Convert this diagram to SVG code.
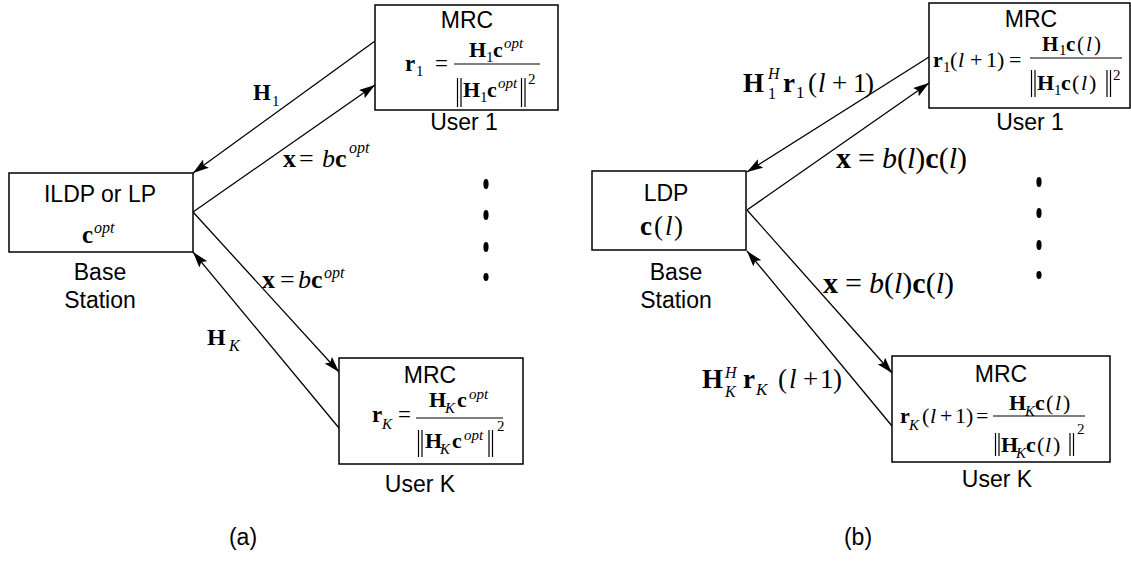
<svg xmlns="http://www.w3.org/2000/svg" width="1131" height="561" viewBox="0 0 1131 561">
<style>
.t{font-family:"Liberation Sans",Arial,sans-serif;font-size:23px;fill:#000}
.m{font-family:"Liberation Serif","Times New Roman",serif;fill:#000}
.b{font-weight:bold}
.i{font-style:italic}
.box{fill:#fff;stroke:#000;stroke-width:1.5}
.ln{stroke:#000;stroke-width:1.2;fill:none}
.c{stroke:#000;stroke-width:1.3;fill:none;marker-end:url(#ah)}
.dot{fill:#000}
</style>
<defs>
<marker id="ah" viewBox="0 0 16 10" refX="16" refY="5" markerWidth="16" markerHeight="10" orient="auto" markerUnits="userSpaceOnUse">
<path d="M0,0 L16,5 L0,10 L3,5 z" fill="#000"/>
</marker>
</defs>

<g id="connectors">
<line class="c" x1="375" y1="41" x2="193" y2="173"/>
<line class="c" x1="193" y1="212" x2="375" y2="85"/>
<line class="c" x1="193" y1="212" x2="339" y2="372"/>
<line class="c" x1="339" y1="428" x2="193" y2="252"/>
<line class="c" x1="929" y1="57" x2="747" y2="172"/>
<line class="c" x1="747" y1="210" x2="929" y2="83"/>
<line class="c" x1="747" y1="210" x2="892" y2="373"/>
<line class="c" x1="892" y1="426" x2="747" y2="251"/>
</g>

<g id="connector-labels">
<text class="m" font-size="23"><tspan class="b" x="253" y="100">H</tspan><tspan x="272" y="106" font-size="15">1</tspan></text>
<text class="m" font-size="26"><tspan class="b" x="283" y="167">x</tspan><tspan x="299" y="167">=</tspan><tspan class="i" x="322" y="167">b</tspan><tspan class="b">c</tspan><tspan class="i" x="349" y="153" font-size="16">opt</tspan></text>
<text class="m" font-size="26"><tspan class="b" x="262" y="288">x</tspan><tspan x="280" y="288">=</tspan><tspan class="i" x="298" y="288">b</tspan><tspan class="b">c</tspan><tspan class="i" x="324" y="278" font-size="16">opt</tspan></text>
<text class="m" font-size="24"><tspan class="b" x="207" y="345">H</tspan><tspan class="i" x="229" y="351" font-size="16">K</tspan></text>

<text class="m" font-size="27"><tspan class="b" x="743" y="92">H</tspan><tspan class="i" x="768" y="79" font-size="16">H</tspan><tspan x="768" y="99" font-size="16">1</tspan><tspan class="b" x="783" y="92">r</tspan><tspan x="796" y="98" font-size="17">1</tspan><tspan x="808" y="92">(</tspan><tspan class="i" x="818" y="92">l</tspan><tspan x="832" y="92">+</tspan><tspan x="853" y="92">1</tspan><tspan x="865" y="92">)</tspan></text>
<text class="m" font-size="30"><tspan class="b" x="836" y="168">x</tspan><tspan x="858" y="168">=</tspan><tspan class="i" x="882" y="168">b</tspan><tspan>(</tspan><tspan class="i">l</tspan><tspan>)</tspan><tspan class="b">c</tspan><tspan>(</tspan><tspan class="i">l</tspan><tspan>)</tspan></text>
<text class="m" font-size="30"><tspan class="b" x="823" y="293">x</tspan><tspan x="845" y="293">=</tspan><tspan class="i" x="869" y="293">b</tspan><tspan>(</tspan><tspan class="i">l</tspan><tspan>)</tspan><tspan class="b">c</tspan><tspan>(</tspan><tspan class="i">l</tspan><tspan>)</tspan></text>
<text class="m" font-size="27"><tspan class="b" x="702" y="388">H</tspan><tspan class="i" x="725" y="378" font-size="16">H</tspan><tspan class="i" x="725" y="397" font-size="16">K</tspan><tspan class="b" x="743" y="388">r</tspan><tspan class="i" x="756" y="395" font-size="17">K</tspan><tspan x="778" y="388">(</tspan><tspan class="i" x="789" y="388">l</tspan><tspan x="803" y="388">+</tspan><tspan x="820" y="388">1</tspan><tspan x="833" y="388">)</tspan></text>
</g>

<g id="a-base-station">
<rect class="box" x="9" y="173" width="184" height="79"/>
<text class="t" x="100" y="202" text-anchor="middle">ILDP or LP</text>
<text class="m"><tspan class="b" x="82" y="243" font-size="25">c</tspan><tspan class="i" x="94" y="233" font-size="16">opt</tspan></text>
<text class="t" x="100" y="280" text-anchor="middle">Base</text>
<text class="t" x="100" y="308" text-anchor="middle">Station</text>
</g>

<g id="a-user1">
<rect class="box" x="375" y="5" width="183" height="105"/>
<text class="t" x="467" y="28" text-anchor="middle">MRC</text>
<text class="m" font-size="23"><tspan class="b" x="405" y="71">r</tspan><tspan x="416" y="76" font-size="15">1</tspan><tspan x="435" y="71">=</tspan></text>
<line class="ln" x1="454" y1="64" x2="540" y2="64"/>
<text class="m" font-size="22"><tspan class="b" x="469" y="57">H</tspan><tspan x="486" y="62" font-size="15">1</tspan><tspan class="b" x="493" y="57">c</tspan><tspan class="i" x="504" y="48" font-size="15">opt</tspan></text>
<line class="ln" x1="457.5" y1="78" x2="457.5" y2="107"/><line class="ln" x1="461" y1="78" x2="461" y2="107"/>
<text class="m" font-size="22"><tspan class="b" x="463" y="97">H</tspan><tspan x="480" y="102" font-size="15">1</tspan><tspan class="b" x="487" y="97">c</tspan><tspan class="i" x="498" y="88" font-size="15">opt</tspan><tspan x="528" y="84" font-size="15">2</tspan></text>
<line class="ln" x1="521.5" y1="78" x2="521.5" y2="107"/><line class="ln" x1="525" y1="78" x2="525" y2="107"/>
<text class="t" x="464" y="130" text-anchor="middle">User 1</text>
</g>

<g id="a-userK">
<rect class="box" x="339" y="358" width="184" height="106"/>
<text class="t" x="430" y="383" text-anchor="middle">MRC</text>
<text class="m" font-size="23"><tspan class="b" x="372" y="422">r</tspan><tspan class="i" x="382" y="429" font-size="15">K</tspan><tspan x="398" y="422">=</tspan></text>
<line class="ln" x1="416" y1="418" x2="503" y2="418"/>
<text class="m" font-size="22"><tspan class="b" x="429" y="407">H</tspan><tspan class="i" x="445" y="413" font-size="15">K</tspan><tspan class="b" x="457" y="407">c</tspan><tspan class="i" x="469" y="399" font-size="15">opt</tspan></text>
<line class="ln" x1="418.5" y1="430" x2="418.5" y2="457"/><line class="ln" x1="422" y1="430" x2="422" y2="457"/>
<text class="m" font-size="22"><tspan class="b" x="425" y="448">H</tspan><tspan class="i" x="440" y="454" font-size="15">K</tspan><tspan class="b" x="452" y="448">c</tspan><tspan class="i" x="464" y="440" font-size="15">opt</tspan><tspan x="497" y="431" font-size="15">2</tspan></text>
<line class="ln" x1="489" y1="430" x2="489" y2="457"/><line class="ln" x1="492.5" y1="430" x2="492.5" y2="457"/>
<text class="t" x="420" y="492" text-anchor="middle">User K</text>
</g>

<g id="a-dots">
<ellipse class="dot" cx="486" cy="184" rx="2.6" ry="5"/>
<ellipse class="dot" cx="486" cy="215" rx="2.6" ry="5"/>
<ellipse class="dot" cx="486" cy="247" rx="2.6" ry="5"/>
<ellipse class="dot" cx="486" cy="277" rx="2.6" ry="4"/>
</g>

<g id="b-base-station">
<rect class="box" x="592" y="171" width="154" height="79"/>
<text class="t" x="666" y="201" text-anchor="middle">LDP</text>
<text class="m" font-size="27"><tspan class="b" x="640" y="235">c</tspan><tspan x="654" y="235">(</tspan><tspan class="i" x="665" y="235">l</tspan><tspan x="674" y="235">)</tspan></text>
<text class="t" x="676" y="280" text-anchor="middle">Base</text>
<text class="t" x="676" y="308" text-anchor="middle">Station</text>
</g>

<g id="b-user1">
<rect class="box" x="929" y="3" width="201" height="105"/>
<text class="t" x="1031" y="27" text-anchor="middle">MRC</text>
<text class="m" font-size="22"><tspan class="b" x="933" y="67">r</tspan><tspan x="943" y="72" font-size="15">1</tspan><tspan x="950" y="67">(</tspan><tspan class="i" x="958" y="67">l</tspan><tspan x="970" y="67">+</tspan><tspan x="986" y="67">1</tspan><tspan x="997" y="67">)</tspan><tspan x="1009" y="67">=</tspan></text>
<line class="ln" x1="1030" y1="58" x2="1122" y2="58"/>
<text class="m" font-size="21"><tspan class="b" x="1042" y="51">H</tspan><tspan x="1059" y="55" font-size="15">1</tspan><tspan class="b" x="1066" y="51">c</tspan><tspan x="1077" y="51">(</tspan><tspan class="i" x="1086" y="51">l</tspan><tspan x="1094" y="51">)</tspan></text>
<line class="ln" x1="1031.5" y1="70" x2="1031.5" y2="97"/><line class="ln" x1="1035" y1="70" x2="1035" y2="97"/>
<text class="m" font-size="22"><tspan class="b" x="1037" y="90">H</tspan><tspan x="1054" y="95" font-size="15">1</tspan><tspan class="b" x="1061" y="90">c</tspan><tspan x="1072" y="90">(</tspan><tspan class="i" x="1081" y="90">l</tspan><tspan x="1089" y="90">)</tspan><tspan x="1113" y="80" font-size="15">2</tspan></text>
<line class="ln" x1="1107" y1="70" x2="1107" y2="97"/><line class="ln" x1="1110.5" y1="70" x2="1110.5" y2="97"/>
<text class="t" x="1030" y="130" text-anchor="middle">User 1</text>
</g>

<g id="b-userK">
<rect class="box" x="892" y="356" width="218" height="106"/>
<text class="t" x="1001" y="382" text-anchor="middle">MRC</text>
<text class="m" font-size="22"><tspan class="b" x="900" y="423">r</tspan><tspan class="i" x="909" y="430" font-size="15">K</tspan><tspan x="922" y="423">(</tspan><tspan class="i" x="930" y="423">l</tspan><tspan x="940" y="423">+</tspan><tspan x="955" y="423">1</tspan><tspan x="966" y="423">)</tspan><tspan x="976" y="423">=</tspan></text>
<line class="ln" x1="993" y1="416" x2="1085" y2="416"/>
<text class="m" font-size="22"><tspan class="b" x="1009" y="410">H</tspan><tspan class="i" x="1025" y="416" font-size="15">K</tspan><tspan class="b" x="1035" y="410">c</tspan><tspan x="1046" y="410">(</tspan><tspan class="i" x="1055" y="410">l</tspan><tspan x="1063" y="410">)</tspan></text>
<line class="ln" x1="995.5" y1="433" x2="995.5" y2="456"/><line class="ln" x1="999" y1="433" x2="999" y2="456"/>
<text class="m" font-size="22"><tspan class="b" x="1001" y="452">H</tspan><tspan class="i" x="1016" y="458" font-size="15">K</tspan><tspan class="b" x="1026" y="452">c</tspan><tspan x="1037" y="452">(</tspan><tspan class="i" x="1045" y="452">l</tspan><tspan x="1053" y="452">)</tspan><tspan x="1077" y="434" font-size="15">2</tspan></text>
<line class="ln" x1="1070" y1="433" x2="1070" y2="456"/><line class="ln" x1="1073.5" y1="433" x2="1073.5" y2="456"/>
<text class="t" x="997" y="487" text-anchor="middle">User K</text>
</g>

<g id="b-dots">
<ellipse class="dot" cx="1039" cy="182" rx="2.6" ry="5"/>
<ellipse class="dot" cx="1039" cy="213" rx="2.6" ry="5"/>
<ellipse class="dot" cx="1039" cy="245" rx="2.6" ry="5"/>
<ellipse class="dot" cx="1039" cy="275" rx="2.6" ry="4"/>
</g>

<g id="captions">
<text class="t" x="243" y="545" text-anchor="middle">(a)</text>
<text class="t" x="858" y="545" text-anchor="middle">(b)</text>
</g>
</svg>
